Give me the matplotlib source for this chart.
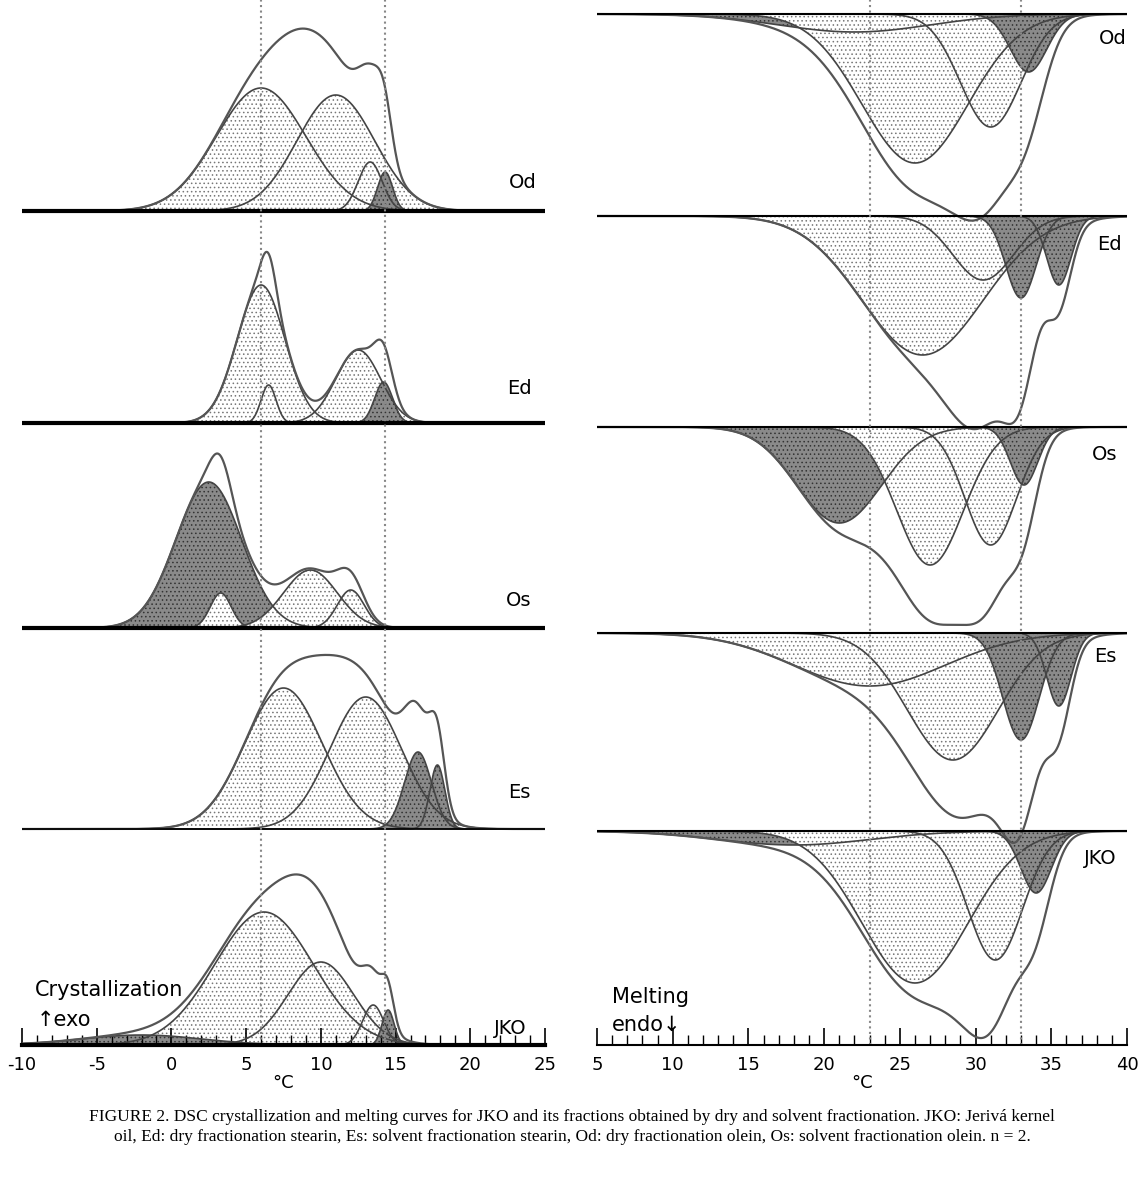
import numpy as np
import matplotlib.pyplot as plt

W, H = 1144, 1188
plt.rcParams['font.family'] = ['DejaVu Sans']
plt.rcParams['axes.unicode_minus'] = False
plt.rcParams['hatch.linewidth'] = 0.6

# peak parameters: (centre degC, height px, width degC, dark?)
cryst_names = ['Od', 'Ed', 'Os', 'Es', 'JKO']
cryst_base = [211, 423, 628, 829, 1045]
cryst_peaks = [
    [(6.0, 123, 3.0, 0), (11.0, 116, 2.6, 0), (13.3, 49, 0.8, 0), (14.3, 39, 0.5, 1)],
    [(6.0, 138, 1.6, 0), (6.5, 38, 0.5, 0), (12.5, 73, 1.5, 0), (14.2, 41, 0.6, 1)],
    [(2.5, 146, 2.2, 1), (3.3, 35, 0.7, 0), (9.3, 58, 1.8, 0), (12.0, 38, 0.9, 0)],
    [(7.5, 141, 2.6, 0), (13.0, 132, 2.4, 0), (16.5, 77, 0.9, 1), (17.8, 64, 0.5, 1)],
    [(6.2, 133, 3.3, 0), (10.0, 83, 2.2, 0), (13.5, 40, 0.7, 0), (14.5, 35, 0.4, 1), (-2.0, 10, 4.0, 1)],
]
# extra signal in the measured total, not shown as a component
cryst_extra = [[(8.5, 22, 2.0), (13.8, 10, 0.6)], [], [], [(10.3, 25, 1.8)], []]

melt_names = ['Od', 'Ed', 'Os', 'Es', 'JKO']
melt_base = [14, 216, 427, 633, 831]
melt_peaks = [
    [(22.0, 18, 5.0, 1), (26.0, 149, 3.5, 0), (31.0, 113, 2.0, 0), (33.5, 58, 1.2, 1)],
    [(26.5, 139, 4.0, 0), (30.5, 64, 2.0, 0), (33.0, 82, 1.0, 1), (35.5, 69, 0.8, 1)],
    [(21.0, 96, 2.8, 1), (27.0, 138, 2.2, 0), (31.0, 118, 1.7, 0), (33.2, 58, 0.9, 1)],
    [(23.0, 53, 5.0, 0), (28.5, 127, 3.0, 0), (33.0, 107, 1.2, 1), (35.5, 73, 0.8, 1)],
    [(18.0, 14, 5.0, 1), (26.0, 152, 3.5, 0), (31.3, 129, 1.8, 0), (34.0, 62, 1.0, 1)],
]
melt_extra = [[(29.0, 25, 2.5)], [(31.0, 60, 2.5)], [(29.0, 45, 2.5), (24.0, 20, 2.0)],
              [(31.5, 55, 2.5)], [(29.0, 30, 2.0)]]
cryst_vlines = [6.0, 14.3]
melt_vlines = [23.0, 33.0]

fig = plt.figure(figsize=(W / 100, H / 100), dpi=100)


def fx(x):
    return x / W


def fy(y):
    return 1 - y / H


def gauss(x, c, h, s):
    return h * np.exp(-0.5 * ((x - c) / s) ** 2)


def draw(ax, bases, peaks, extras, sign, xr):
    x = np.linspace(xr[0], xr[1], 1200)
    for base, pk, ex in zip(bases, peaks, extras):
        tot = np.zeros_like(x)
        for c, h, s, dark in pk:
            g = gauss(x, c, h, s)
            tot += g
            y = base - sign * g
            if dark:
                ax.fill_between(x, base, y, facecolor='#8a8a8a', hatch='....', edgecolor='#333333', lw=0)
            else:
                ax.fill_between(x, base, y, facecolor='white', hatch='....', edgecolor='#777777', lw=0)
            ax.plot(x, y, color='#444444', lw=1.2)
        for c, h, s in ex:
            tot += gauss(x, c, h, s)
        ax.plot(x, base - sign * tot, color='#555555', lw=1.6)


# crystallization (left)
axl = fig.add_axes([fx(22), fy(1045), fx(523), 1045 / H])
draw(axl, cryst_base, cryst_peaks, cryst_extra, 1, (-10, 25))
for b, lw in zip(cryst_base[:-1], [3, 3, 3, 1.2]):
    axl.axhline(b, color='black', lw=lw)
for v in cryst_vlines:
    axl.axvline(v, color='#888888', ls=':', lw=1.5)
axl.set_xlim(-10, 25)
axl.set_ylim(1045, 0)
axl.set_xticks(np.arange(-10, 26, 5))
axl.set_xticks(np.arange(-10, 26, 1), minor=True)

# melting (right)
axr = fig.add_axes([fx(597), fy(1045), fx(530), 1045 / H])
draw(axr, melt_base, melt_peaks, melt_extra, -1, (5, 40))
for b in melt_base:
    axr.axhline(b, color='black', lw=1.5)
for v in melt_vlines:
    axr.axvline(v, color='#888888', ls=':', lw=1.5)
axr.set_xlim(5, 40)
axr.set_ylim(1045, 0)
axr.set_xticks(np.arange(5, 41, 5))
axr.set_xticks(np.arange(5, 41, 1), minor=True)

for ax, lw in [(axl, 3), (axr, 1.5)]:
    for s in ['top', 'left', 'right']:
        ax.spines[s].set_visible(False)
    ax.spines['bottom'].set_linewidth(lw)
    ax.set_yticks([])
    ax.tick_params(axis='x', which='major', direction='in', length=12, width=1.2, labelsize=13, pad=8)
    ax.tick_params(axis='x', which='minor', direction='in', length=7, width=1)
    ax.set_xlabel('°C', fontsize=13, labelpad=0)

for n, (x, y) in zip(cryst_names, [(523, 182), (519, 388), (519, 600), (519, 793), (510, 1028)]):
    fig.text(fx(x), fy(y), n, ha='center', va='center', fontsize=14)
for n, (x, y) in zip(melt_names, [(1113, 38), (1109, 244), (1105, 455), (1105, 656), (1100, 858)]):
    fig.text(fx(x), fy(y), n, ha='center', va='center', fontsize=14)
fig.text(fx(35), fy(990), 'Crystallization', ha='left', va='center', fontsize=15)
fig.text(fx(37), fy(1020), '↑exo', ha='left', va='center', fontsize=15)
fig.text(fx(612), fy(997), 'Melting', ha='left', va='center', fontsize=15)
fig.text(fx(612), fy(1025), 'endo↓', ha='left', va='center', fontsize=15)

fig.text(0.5, fy(1127),
         'FIGURE 2. DSC crystallization and melting curves for JKO and its fractions obtained by dry and solvent fractionation. JKO: Jerivá kernel\n'
         'oil, Ed: dry fractionation stearin, Es: solvent fractionation stearin, Od: dry fractionation olein, Os: solvent fractionation olein. n = 2.',
         ha='center', va='center', fontsize=12.5, family='Liberation Serif', linespacing=1.4)

fig.savefig('out.png', dpi=100)
